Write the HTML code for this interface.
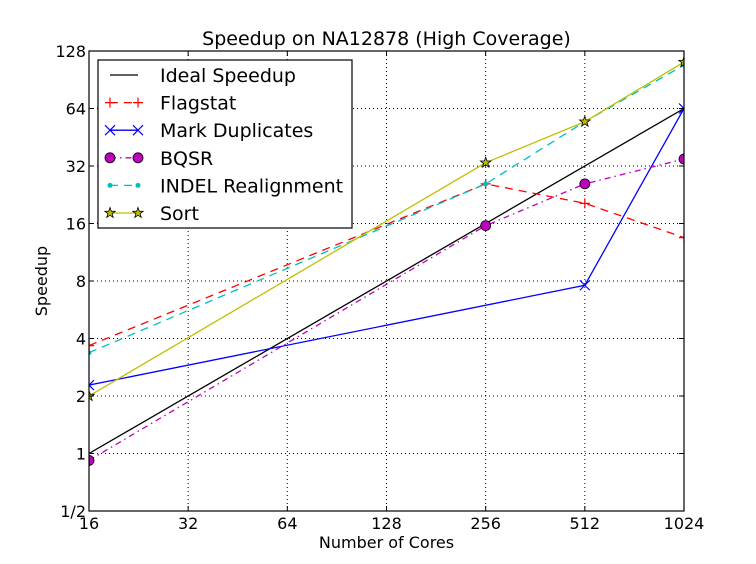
<!DOCTYPE html>
<html><head><meta charset="utf-8"><style>
html,body{margin:0;padding:0;background:#fff;}
svg{display:block;font-family:"DejaVu Sans","Liberation Sans",sans-serif;}
</style></head><body>
<svg id="chart" width="756" height="564" viewBox="0 0 756 564">
<defs><clipPath id="plotclip"><rect x="89" y="51" width="595" height="460"/></clipPath></defs>
<rect width="756" height="564" fill="#fff"/>
<text x="386.5" y="45" text-anchor="middle" font-size="19" fill="#000">Speedup on NA12878 (High Coverage)</text>
<text x="386.5" y="548" text-anchor="middle" font-size="16" fill="#000">Number of Cores</text>
<text x="47" y="281" text-anchor="middle" font-size="16" fill="#000" transform="rotate(-90 47 281)">Speedup</text>
<g id="grid"></g>
<g id="series" clip-path="url(#plotclip)"></g>
<g id="axes"></g>
<g id="legend"></g>
</svg>
<script>
const xTicks = [16, 32, 64, 128, 256, 512, 1024];
const xTickLabels = ["16", "32", "64", "128", "256", "512", "1024"];
const yTicks = [0.5, 1, 2, 4, 8, 16, 32, 64, 128];
const yTickLabels = ["1/2", "1", "2", "4", "8", "16", "32", "64", "128"];
const cores = [16, 256, 512, 1024];
const idealCores = [16, 1024];
const idealValues = [1, 64];
const flagstatValues = [3.67, 25.8, 20.4, 13.5];
const markDupCores = [16, 512, 1024];
const markDupValues = [2.28, 7.6, 64];
const bqsrValues = [0.92, 15.6, 25.8, 34.8];
const indelValues = [3.37, 25.8, 54.6, 108];
const sortValues = [2.0, 33.3, 54.6, 112];

const L = 89, R = 684, T = 51, B = 511;
function xs(v){ return L + (Math.log2(v) - 4) / 6 * (R - L); }
function ys(v){ return B - (Math.log2(v) + 1) / 8 * (B - T); }
const NS = "http://www.w3.org/2000/svg";
function mk(tag, attrs, parent){
  const e = document.createElementNS(NS, tag);
  for (const k in attrs) e.setAttribute(k, attrs[k]);
  parent.appendChild(e); return e;
}
const grid = document.getElementById('grid');
const axes = document.getElementById('axes');
const series = document.getElementById('series');
const legend = document.getElementById('legend');

xTicks.forEach((t, i) => {
  const x = xs(t);
  const g = mk('line', {x1:x, x2:x, y1:T, y2:B, stroke:'#000', 'stroke-width':1, 'stroke-dasharray':'1,3'}, grid);
  
  
  const tk = mk('line', {x1:x, x2:x, y1:B, y2:B-5, stroke:'#000', 'stroke-width':1}, axes);
  
  
  const tk2 = mk('line', {x1:x, x2:x, y1:T, y2:T+5, stroke:'#000', 'stroke-width':1}, axes);
  
  
  const lb = mk('text', {x:x, y:B+18, 'text-anchor':'middle', 'font-size':16, fill:'#000'}, axes);
  lb.textContent = xTickLabels[i];
  
  
});
yTicks.forEach((t, i) => {
  const y = ys(t);
  const g = mk('line', {x1:L, x2:R, y1:y, y2:y, stroke:'#000', 'stroke-width':1, 'stroke-dasharray':'1,3'}, grid);
  
  
  const tk = mk('line', {x1:L, x2:L+5, y1:y, y2:y, stroke:'#000', 'stroke-width':1}, axes);
  
  
  const tk2 = mk('line', {x1:R, x2:R-5, y1:y, y2:y, stroke:'#000', 'stroke-width':1}, axes);
  
  
  const lb = mk('text', {x:L-3, y:y+6, 'text-anchor':'end', 'font-size':16, fill:'#000'}, axes);
  lb.textContent = yTickLabels[i];
  
  
});
const frame = mk('rect', {x:L, y:T, width:R-L, height:B-T, fill:'none', stroke:'#000', 'stroke-width':1.2}, axes);



function marker(kind, x, y, color, parent){
  let m;
  if (kind === 'plus') {
    m = mk('path', {d:`M${x-5} ${y}H${x+5}M${x} ${y-5}V${y+5}`, stroke:color, 'stroke-width':1.2, fill:'none'}, parent);
  } else if (kind === 'x') {
    m = mk('path', {d:`M${x-5} ${y-5}L${x+5} ${y+5}M${x-5} ${y+5}L${x+5} ${y-5}`, stroke:color, 'stroke-width':1.2, fill:'none'}, parent);
  } else if (kind === 'circle') {
    m = mk('circle', {cx:x, cy:y, r:5, fill:color, stroke:'#000', 'stroke-width':0.8}, parent);
  } else if (kind === 'dot') {
    m = mk('circle', {cx:x, cy:y, r:2.5, fill:color}, parent);
  } else if (kind === 'star') {
    let pts = [];
    for (let k = 0; k < 10; k++) {
      const r = k % 2 ? 2.2 : 5.5, a = -Math.PI/2 + k*Math.PI/5;
      pts.push((x + r*Math.cos(a)).toFixed(1) + ',' + (y + r*Math.sin(a)).toFixed(1));
    }
    m = mk('polygon', {points:pts.join(' '), fill:color, stroke:'#000', 'stroke-width':0.8}, parent);
  }
  return m;
}

const defs = [
  {name:'Ideal Speedup', key:'ideal', xsv:idealCores, v:idealValues, color:'#000', dash:'', mk:null},
  {name:'Flagstat', key:'flagstat', xsv:cores, v:flagstatValues, color:'#ff0000', dash:'8,6', mk:'plus'},
  {name:'Mark Duplicates', key:'mark-duplicates', xsv:markDupCores, v:markDupValues, color:'#0000ff', dash:'', mk:'x'},
  {name:'BQSR', key:'bqsr', xsv:cores, v:bqsrValues, color:'#bf00bf', dash:'6,4,1.5,4', mk:'circle'},
  {name:'INDEL Realignment', key:'indel-realignment', xsv:cores, v:indelValues, color:'#00bfbf', dash:'8,6', mk:'dot'},
  {name:'Sort', key:'sort', xsv:cores, v:sortValues, color:'#bfbf00', dash:'', mk:'star'}
];
defs.forEach(s => {
  const g = mk('g', {}, series);
  
  
  const pts = s.v.map((v, i) => xs(s.xsv[i]).toFixed(1) + ',' + ys(v).toFixed(1)).join(' ');
  const pl = mk('polyline', {points:pts, fill:'none', stroke:s.color, 'stroke-width':1.3, 'stroke-dasharray':s.dash || 'none'}, g);
  
  
  if (s.mk) s.v.forEach((v, i) => {
    const m = marker(s.mk, xs(s.xsv[i]), ys(v), s.color, g);
    
    
  });
});

const box = mk('rect', {x:98, y:60, width:254, height:168, fill:'#fff', stroke:'#000', 'stroke-width':1.2}, legend);


defs.forEach((s, i) => {
  const y = 75 + i * 27.6;
  const g = mk('g', {}, legend);
  
  
  const ln = mk('line', {x1:110, x2:138, y1:y, y2:y, stroke:s.color, 'stroke-width':1.3, 'stroke-dasharray':s.dash || 'none'}, g);
  
  
  if (s.mk) {
    const a = marker(s.mk, 110, y, s.color, g);
    
    
    const b = marker(s.mk, 138, y, s.color, g);
    
    
  }
  const t = mk('text', {x:160, y:y+7, 'font-size':19, fill:'#000'}, g);
  t.textContent = s.name;
  
  
});
</script>
</body></html>
